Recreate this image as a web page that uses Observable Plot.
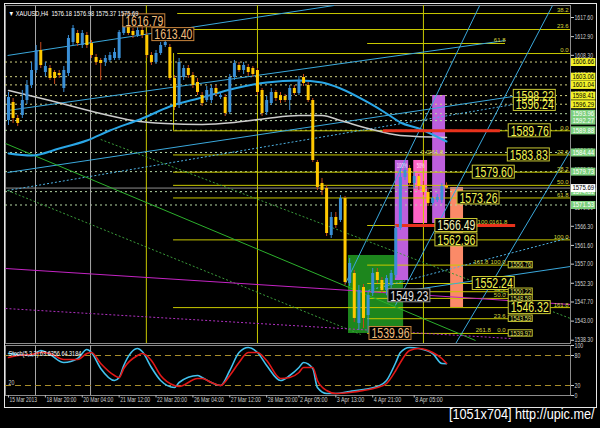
<!DOCTYPE html>
<html>
<head>
<meta charset="utf-8">
<script src="https://cdn.jsdelivr.net/npm/d3@7"></script>
<script src="https://cdn.jsdelivr.net/npm/@observablehq/plot@0.6"></script>
<style>
  html, body { margin: 0; padding: 0; background: #000; }
  #chart { position: relative; width: 600px; height: 428px; background: #000; overflow: hidden; }
  #chart svg { position: absolute; left: 0; }
  #border { position: absolute; left: 4px; top: 3px; width: 593px; height: 405px; border: 1px solid #e6e6e6; box-sizing: border-box; pointer-events: none; }
</style>
</head>
<body>
<div id="chart"><div id="border"></div></div>
<script>
// ---------- XAUUSD H4 bars ----------
const symbol = "XAUUSD,H4";
const candleOpen = [
  1592.30, 1596.72, 1592.79, 1593.52, 1597.21, 1600.90, 1604.58, 1609.49, 1604.09, 1605.07,
  1604.09, 1603.84, 1600.16, 1603.84, 1611.46, 1613.67, 1610.72, 1613.18, 1611.21, 1607.77,
  1607.04, 1606.55, 1607.04, 1607.53, 1607.53, 1613.67, 1615.39, 1614.16, 1613.18, 1614.41,
  1613.18, 1608.27, 1606.55, 1608.76, 1610.72, 1610.23, 1602.62, 1595.98, 1602.86, 1605.07,
  1603.35, 1601.63, 1598.44, 1597.21, 1597.21, 1600.16, 1597.95, 1597.95, 1594.26, 1602.86,
  1605.81, 1604.58, 1605.32, 1605.07, 1604.58, 1599.67, 1594.26, 1596.47, 1599.18, 1598.44,
  1598.19, 1597.21, 1600.16, 1598.93, 1602.86, 1600.90, 1597.21, 1581.98, 1576.82, 1575.59,
  1564.04, 1568.47, 1567.73, 1573.13, 1552.25, 1554.70, 1542.42, 1551.26, 1544.38, 1549.79,
  1554.95, 1552.98, 1550.53, 1551.76, 1554.21, 1565.76, 1578.29, 1580.50, 1576.82, 1578.54,
  1576.33, 1574.61, 1571.90, 1572.64, 1572.64, 1576.18
];
const candleHigh = [
  1599.18, 1597.70, 1593.52, 1599.67, 1602.12, 1606.55, 1610.72, 1611.46, 1606.55, 1605.81,
  1604.58, 1604.58, 1605.56, 1613.18, 1615.64, 1614.41, 1614.41, 1613.92, 1611.95, 1608.51,
  1607.53, 1608.27, 1609.00, 1609.99, 1614.41, 1616.79, 1616.20, 1614.90, 1615.14, 1615.14,
  1613.92, 1609.00, 1609.49, 1611.46, 1613.40, 1610.97, 1603.35, 1607.53, 1605.81, 1605.81,
  1604.09, 1602.62, 1599.18, 1600.65, 1600.90, 1600.90, 1599.18, 1598.68, 1603.60, 1607.04,
  1606.55, 1606.55, 1606.06, 1605.56, 1605.07, 1600.16, 1598.19, 1600.16, 1599.67, 1599.18,
  1598.68, 1600.90, 1600.90, 1603.11, 1603.60, 1601.63, 1597.70, 1582.47, 1578.05, 1576.33,
  1569.69, 1569.69, 1573.87, 1573.62, 1558.39, 1555.44, 1551.76, 1552.00, 1550.53, 1555.93,
  1555.93, 1553.72, 1554.21, 1555.44, 1566.50, 1580.50, 1581.73, 1581.24, 1579.52, 1579.03,
  1577.31, 1575.35, 1573.62, 1574.12, 1576.82, 1576.98
];
const candleLow = [
  1591.07, 1591.56, 1590.82, 1592.79, 1596.23, 1600.16, 1603.84, 1605.07, 1603.11, 1602.12,
  1601.14, 1602.62, 1599.18, 1603.11, 1610.72, 1610.48, 1609.99, 1609.99, 1607.53, 1605.81,
  1602.12, 1605.56, 1606.55, 1607.04, 1607.04, 1613.18, 1613.18, 1612.44, 1612.69, 1612.44,
  1607.53, 1605.81, 1606.06, 1608.27, 1610.23, 1602.12, 1594.75, 1595.24, 1602.12, 1602.62,
  1600.16, 1598.44, 1595.74, 1596.72, 1596.47, 1598.19, 1597.46, 1593.28, 1593.77, 1602.12,
  1604.09, 1603.60, 1603.11, 1602.86, 1598.44, 1593.28, 1593.52, 1595.98, 1596.96, 1596.47,
  1596.72, 1594.75, 1598.44, 1598.44, 1600.65, 1596.72, 1581.98, 1575.10, 1573.87, 1563.79,
  1563.30, 1565.76, 1567.23, 1551.76, 1551.51, 1542.66, 1540.70, 1541.20, 1539.96, 1549.05,
  1552.25, 1549.79, 1549.23, 1551.02, 1553.47, 1565.27, 1577.55, 1576.08, 1575.59, 1575.10,
  1573.87, 1571.17, 1571.41, 1572.15, 1571.90, 1575.37
];
const candleClose = [
  1597.95, 1592.79, 1591.56, 1597.21, 1600.90, 1604.58, 1609.49, 1605.81, 1605.56, 1602.62,
  1602.62, 1603.35, 1604.58, 1612.44, 1614.90, 1611.21, 1613.67, 1610.72, 1608.27, 1606.55,
  1606.30, 1607.53, 1608.27, 1609.00, 1613.92, 1615.64, 1613.67, 1613.18, 1614.41, 1613.18,
  1608.27, 1606.55, 1608.76, 1610.72, 1611.46, 1602.62, 1595.49, 1606.55, 1605.07, 1603.35,
  1600.90, 1599.18, 1596.47, 1599.67, 1600.16, 1598.93, 1598.44, 1594.02, 1602.86, 1606.30,
  1604.58, 1605.81, 1604.09, 1603.60, 1599.18, 1594.02, 1597.21, 1599.18, 1597.70, 1597.21,
  1597.21, 1600.16, 1598.93, 1602.12, 1601.39, 1597.21, 1582.47, 1575.84, 1575.10, 1564.53,
  1568.47, 1566.50, 1573.13, 1552.49, 1557.16, 1543.65, 1550.53, 1543.65, 1549.30, 1554.70,
  1552.98, 1550.53, 1553.47, 1554.70, 1565.76, 1578.29, 1580.01, 1576.82, 1578.54, 1576.08,
  1574.61, 1571.90, 1573.13, 1573.38, 1576.08, 1575.69
];

// time axis (bar index of each label)
const timeTickIndex = [0, 8, 16, 24, 32, 40, 48, 56, 63, 71, 79, 88];
const timeTickLabel = ["15 Mar 2013", "18 Mar 20:00", "20 Mar 04:00", "21 Mar 12:00", "22 Mar 20:00",
  "26 Mar 04:00", "27 Mar 12:00", "28 Mar 20:00", "2 Apr 05:00", "3 Apr 13:00", "4 Apr 21:00", "8 Apr 05:00"];

// moving averages
const maFastIndex = [0, 5, 11, 17, 22, 29, 35, 42, 49, 56, 63, 68, 72, 78, 82, 85, 89, 95];
const maFastValue = [1584.18, 1583.69, 1585.41, 1587.38, 1589.84, 1592.78, 1595.73, 1597.94, 1600.16,
  1601.63, 1602.12, 1601.63, 1600.16, 1596.72, 1594.01, 1591.80, 1590.33, 1587.13];
const maSlowIndex = [0, 9, 20, 27, 34, 42, 49, 56, 63, 68, 72, 78, 85, 95];
const maSlowValue = [1599.67, 1597.21, 1594.02, 1592.30, 1591.56, 1591.31, 1591.80, 1592.79, 1593.52,
  1593.52, 1592.30, 1590.33, 1588.61, 1588.12];

// stochastic oscillator (5,3,3)
const stochIndex = [0, 2, 5, 7, 9, 12, 15, 17, 18, 20, 23, 24, 25, 28, 29, 31, 33, 36, 37, 41, 42, 44, 46, 48,
  50, 52, 54, 56, 59, 61, 63, 64, 66, 67, 69, 71, 74, 77, 80, 82, 84, 85, 87, 89, 92, 94, 95];
const stochMain = [84, 82, 80, 90, 82, 66, 74, 92, 86, 54, 30, 36, 60, 94, 88, 56, 30, 16, 26, 40, 36, 26, 20, 50,
  86, 96, 86, 60, 30, 40, 56, 66, 54, 16, 4, 4, 8, 12, 18, 30, 66, 86, 96, 94, 84, 64, 63.6356];
const stochSignal = [76, 80, 82, 86, 84, 72, 72, 84, 86, 64, 40, 36, 54, 80, 84, 70, 40, 20, 18, 34, 34, 26, 20, 40,
  66, 86, 86, 70, 34, 36, 46, 56, 56, 30, 10, 4, 6, 10, 16, 24, 50, 66, 90, 94, 86, 74, 64.3184];
const stochLevels = [20, 80];
const stochTicks = [0, 20, 80, 100];

// price scale
const priceTicks = [1617.60, 1612.90, 1608.30, 1603.60, 1598.90, 1594.30, 1589.60, 1584.90, 1580.30,
  1575.60, 1570.90, 1566.30, 1561.60, 1557.00, 1552.30, 1547.70, 1543.00, 1538.30];

// horizontal alert lines with their axis tags
const tagYellow = [1606.66, 1603.06, 1601.04, 1598.41, 1596.29];
const tagGreen = [1593.96, 1592.27, 1589.88, 1584.44, 1579.73, 1574.81, 1571.53];

// Fibonacci levels
const fibUpperLevels = [1618.58, 1614.65, 1608.75];
const fibUpperNames = ["38.2", "23.6", "0.0"];
const fibMainLevels = [1589.76, 1583.83, 1579.60, 1576.36, 1573.26, 1562.96, 1546.32];
const fibMainNames = ["0.0", "23.6", "38.2", "50.0", "61.8", "100.0", "161.8"];
const fibLowerLevels = [1556.76, 1552.24, 1550.22, 1548.58, 1543.59, 1539.97];
const fibLowerNames = ["100.0", "", "61.8", "50.0", "23.6", "0.0"];
const fibShortLevels = [1611.21, 1566.49];

// vertical markers (bar index)
const separatorIndex = [5.86, 17.8];
const markerIndex = [29.9, 54, 90.0];

// shaded zones
const zones = [
  {kind: "green", i1: 73.75, i2: 85.7, v1: 1539.96, v2: 1559.13, tag: ""},
  {kind: "violet", i1: 83.9, i2: 86.8, v1: 1552.98, v2: 1582.47, tag: "100%"},
  {kind: "pink", i1: 87.9, i2: 90.9, v1: 1566.99, v2: 1582.47, tag: "50%"},
  {kind: "violet", i1: 92.0, i2: 94.8, v1: 1566.99, v2: 1598.44, tag: ""},
  {kind: "salmon", i1: 95.9, i2: 98.7, v1: 1546.35, v2: 1575.84, tag: ""}
];

// trend lines
const trendLines = [
  {kind: "cyan", i1: -0.2, v1: 1608.27, i2: 70.6, v2: 1620.55},
  {kind: "cyan", i1: -0.2, v1: 1594.75, i2: 107.8, v2: 1611.95},
  {kind: "cyan", i1: -0.2, v1: 1579.52, i2: 109.6, v2: 1598.22},
  {kind: "cyanDot", i1: -0.2, v1: 1575.10, i2: 109.6, v2: 1596.24},
  {kind: "cyan", i1: 73.1, v1: 1552.25, i2: 102.2, v2: 1620.55},
  {kind: "cyan", i1: 83.9, v1: 1546.84, i2: 118.0, v2: 1620.55},
  {kind: "cyan", i1: 97.0, v1: 1537.50, i2: 121.9, v2: 1584.92},
  {kind: "cyan", i1: 83.9, v1: 1550.04, i2: 121.9, v2: 1556.42},
  {kind: "cyanDot", i1: 76.4, v1: 1550.04, i2: 121.9, v2: 1563.55},
  {kind: "green", i1: -0.65, v1: 1586.64, i2: 101.3, v2: 1538.24},
  {kind: "greenDot", i1: 20.0, v1: 1587.63, i2: 121.9, v2: 1543.65},
  {kind: "greenDot", i1: -0.2, v1: 1575.10, i2: 76.4, v2: 1539.72},
  {kind: "magenta", i1: -0.65, v1: 1555.93, i2: 121.9, v2: 1547.09},
  {kind: "magentaDot", i1: -0.65, v1: 1546.10, i2: 108.9, v2: 1538.73}
];

// highlighted levels
const redLevels = [
  {i1: 81.3, i2: 106.7, v: 1589.76},
  {i1: 83.9, i2: 110.0, v: 1566.49}
];

// price labels
const priceLabels = [
  {kind: "orange", i: 24.9, v: 1616.79},
  {kind: "orange", i: 31.2, v: 1613.40},
  {kind: "yellow", i: 109.6, v: 1598.22},
  {kind: "yellow", i: 109.6, v: 1596.24},
  {kind: "yellow", i: 108.5, v: 1589.76},
  {kind: "yellow", i: 108.3, v: 1583.83},
  {kind: "yellow", i: 100.7, v: 1579.60},
  {kind: "yellow", i: 97.4, v: 1573.26},
  {kind: "pale", i: 92.6, v: 1566.49},
  {kind: "yellow", i: 92.6, v: 1562.96},
  {kind: "yellow", i: 100.7, v: 1552.24},
  {kind: "gray", i: 82.4, v: 1549.23},
  {kind: "yellow", i: 108.5, v: 1546.32},
  {kind: "orange", i: 78.3, v: 1539.96}
];
const smallLabels = [1556.76, 1550.22, 1548.58, 1543.59, 1539.97];
const midNotes = [
  {i: 107.8, v: 1611.21, t: "61.8"},
  {i: 91.3, v: 1583.83, t: "0.0"},
  {i: 94.3, v: 1583.83, t: "261.8"},
  {i: 105.0, v: 1566.49, t: "100.0"},
  {i: 108.2, v: 1566.49, t: "161.8"},
  {i: 104.1, v: 1556.76, t: "161.8"},
  {i: 104.6, v: 1539.97, t: "261.8"}
];

// ---------- derived tables ----------
const X_DOMAIN = [-0.65, 121.9];
const Y_DOMAIN = [1537.5, 1620.55];
const PX = (X_DOMAIN[1] - X_DOMAIN[0]) / 565;   // bar units per pixel
const PY = (Y_DOMAIN[1] - Y_DOMAIN[0]) / 338;   // price units per pixel

const candles = candleOpen.map((open, i) => ({i, open, high: candleHigh[i], low: candleLow[i], close: candleClose[i]}));
const bulls = candles.filter(d => d.close >= d.open);
const bears = candles.filter(d => d.close < d.open);
const last = candles[candles.length - 1];
const maFast = maFastIndex.map((i, k) => ({i, v: maFastValue[k]}));
const maSlow = maSlowIndex.map((i, k) => ({i, v: maSlowValue[k]}));
const stoch = stochIndex.map((i, k) => ({i, main: stochMain[k], signal: stochSignal[k]}));
const timeTicks = timeTickIndex.map((i, k) => ({i, label: timeTickLabel[k]}));

const FIB_FROM = 35.8, FIB_UPPER_FROM = 36.7, LOW_FROM = 77.9, LOW_TO = 108.5;
const fibLines = [
  ...fibUpperLevels.map(v => ({v, i1: FIB_UPPER_FROM, i2: X_DOMAIN[1]})),
  ...fibMainLevels.map(v => ({v, i1: FIB_FROM, i2: X_DOMAIN[1]})),
  ...fibLowerLevels.map(v => ({v, i1: LOW_FROM, i2: LOW_TO})),
  {v: fibShortLevels[0], i1: LOW_FROM, i2: 107.8},
  {v: fibShortLevels[1], i1: LOW_FROM, i2: 83.9}
];
const fibBox = [{i: FIB_FROM, v1: fibMainLevels[0], v2: fibUpperLevels[2]}];
const edgeNotes = [
  ...fibUpperLevels.map((v, k) => ({v, t: fibUpperNames[k]})),
  ...fibMainLevels.map((v, k) => ({v, t: fibMainNames[k]}))
];
const lowerNotes = fibLowerLevels.map((v, k) => ({v, t: fibLowerNames[k]})).filter(d => d.t);

const TAG_X1 = 122.1, TAG_X2 = 127.4;
const LABEL_W = 42 * PX, LABEL_H = 6.5 * PY;
const SMALL_W = 24 * PX, SMALL_H = 3.2 * PY;

const ZONE_FILL = {green: "#1d861d", violet: "#bd5fdc", pink: "#ff63c6", salmon: "#fb8a68"};
const TREND = {
  cyan: {stroke: "#3aa8dc"}, cyanDot: {stroke: "#4eb2e4", strokeDasharray: "2,2"},
  green: {stroke: "#2cb02c"}, greenDot: {stroke: "#3a9a3a", strokeDasharray: "2,2"},
  magenta: {stroke: "#c424c4"}, magentaDot: {stroke: "#b030c0", strokeDasharray: "2,2"}
};
const LABEL_STYLE = {
  orange: {edge: "#c8843c", ink: "#f2bc7c"},
  yellow: {edge: "#c8c832", ink: "#f4f450"},
  pale: {edge: "#c8c832", ink: "#f4f4b8"},
  gray: {edge: "#9a9a9a", ink: "#e4e4e4"}
};
const FIB = "#c8c800";
const SMALL_TEXT = {fontSize: 6, fill: "#d4d43c"};

// font sizes double as group keys for the narrowing pass below
const FS = {axis: 7, time: 6.9, header: 7.2, stochTitle: 7.3, tag: 7.1, small: 6.6, big: 15, mark: 15.5};

// ---------- main price panel ----------
const mainMarks = [
  Plot.frame({stroke: "#8c8c8c"}),
  ...zones.map(z => Plot.rect([z], {x1: "i1", x2: "i2", y1: "v1", y2: "v2", fill: ZONE_FILL[z.kind]})),
  Plot.ruleY(tagYellow, {stroke: "#d2d282", strokeDasharray: "2,3"}),
  Plot.ruleY(tagGreen, {stroke: "#b4d6a4", strokeDasharray: "2,3"}),
  Plot.ruleY([last.close], {stroke: "#8e8e8e"}),
  Plot.ruleX(separatorIndex, {stroke: "#a8a8a8"}),
  Plot.ruleX(markerIndex, {stroke: FIB}),
  Plot.ruleY(fibLines, {y: "v", x1: "i1", x2: "i2", stroke: FIB}),
  Plot.ruleX(fibBox, {x: "i", y1: "v1", y2: "v2", stroke: FIB}),
  ...Object.keys(TREND).map(k => Plot.link(trendLines.filter(d => d.kind === k),
    {x1: "i1", y1: "v1", x2: "i2", y2: "v2", ...TREND[k], strokeWidth: 1, clip: true})),
  Plot.line(maSlow, {x: "i", y: "v", stroke: "#cccccc", strokeWidth: 1.5, curve: "monotone-x"}),
  Plot.line(maFast, {x: "i", y: "v", stroke: "#2aa6e6", strokeWidth: 2, curve: "monotone-x"}),
  Plot.ruleY(redLevels, {y: "v", x1: "i1", x2: "i2", stroke: "#e8321c", strokeWidth: 3}),
  Plot.ruleX(bulls, {x: "i", y1: "low", y2: "high", stroke: "#3a8fd6"}),
  Plot.ruleX(bears, {x: "i", y1: "low", y2: "high", stroke: "#c8481a"}),
  Plot.ruleX(bulls, {x: "i", y1: "open", y2: "close", stroke: "#3a8fd6", strokeWidth: 3}),
  Plot.ruleX(bears, {x: "i", y1: "open", y2: "close", stroke: "#ffc800", strokeWidth: 3}),
  Plot.text(zones.filter(z => z.tag), {x: d => (d.i1 + d.i2) / 2, y: "v2", dy: 5, text: "tag", fontSize: 7, fill: "#ffe0ff"}),
  // fibonacci level names
  Plot.text(edgeNotes, {x: X_DOMAIN[1] - 0.4, y: "v", text: "t", textAnchor: "end", dy: -3, ...SMALL_TEXT}),
  Plot.text(lowerNotes, {x: 107.8, y: "v", text: "t", textAnchor: "end", dy: -3, ...SMALL_TEXT}),
  Plot.text(midNotes, {x: "i", y: "v", text: "t", textAnchor: "end", dy: -3, ...SMALL_TEXT}),
  // boxed price labels
  ...Object.keys(LABEL_STYLE).map(k => Plot.rect(priceLabels.filter(d => d.kind === k),
    {x1: "i", x2: d => d.i + LABEL_W, y1: d => d.v - LABEL_H, y2: d => d.v + LABEL_H,
     fill: "#000", stroke: LABEL_STYLE[k].edge})),
  ...Object.keys(LABEL_STYLE).map(k => Plot.text(priceLabels.filter(d => d.kind === k),
    {x: d => d.i + LABEL_W / 2, y: "v", text: d => d.v.toFixed(2), fontSize: FS.big, fill: LABEL_STYLE[k].ink,
     fontFamily: "Liberation Sans Narrow, Arial Narrow, Liberation Sans, Arial, sans-serif"})),
  Plot.rect(smallLabels, {x1: 108.5, x2: 108.5 + SMALL_W, y1: d => d - SMALL_H, y2: d => d + SMALL_H,
    fill: "#000", stroke: "#c8c832"}),
  Plot.text(smallLabels, {x: 108.5 + SMALL_W / 2, y: d => d, text: d => d.toFixed(2), fontSize: FS.small, fill: "#e2e260"}),
  // price axis with tags
  Plot.axisY(priceTicks, {anchor: "right", tickSize: 3, tickPadding: 1, fontSize: FS.axis, color: "#cfcfcf",
    tickFormat: d => d.toFixed(2)}),
  Plot.ruleY(tagYellow, {x1: TAG_X1, x2: TAG_X2, stroke: "#f2f22a", strokeWidth: 8}),
  Plot.ruleY(tagGreen, {x1: TAG_X1, x2: TAG_X2, stroke: "#7ccf7c", strokeWidth: 8}),
  Plot.ruleY([last.close], {x1: TAG_X1, x2: TAG_X2, stroke: "#ffffff", strokeWidth: 8}),
  Plot.text(tagYellow, {x: TAG_X1, y: d => d, text: d => d.toFixed(2), textAnchor: "start", dx: 1, fontSize: FS.tag, fill: "#000"}),
  Plot.text(tagGreen, {x: TAG_X1, y: d => d, text: d => d.toFixed(2), textAnchor: "start", dx: 1, fontSize: FS.tag, fill: "#ffffff"}),
  Plot.text([last.close], {x: TAG_X1, y: d => d, text: d => d.toFixed(2), textAnchor: "start", dx: 1, fontSize: FS.tag, fill: "#000"}),
  // symbol header
  Plot.text([`\u25BC ${symbol}  ${last.open.toFixed(2)} ${last.high.toFixed(2)} ${last.low.toFixed(2)} ${last.close.toFixed(2)}`],
    {text: d => d, frameAnchor: "top-left", dx: 3, dy: 5, textAnchor: "start", fontSize: FS.header, fill: "#ffffff"})
];

const style = {background: "transparent", color: "#cfcfcf", fontFamily: "Liberation Sans, Arial, sans-serif", overflow: "visible"};

const main = Plot.plot({
  width: 600, height: 345,
  marginLeft: 5, marginRight: 30, marginTop: 5, marginBottom: 2,
  x: {domain: X_DOMAIN, axis: null},
  y: {domain: Y_DOMAIN},
  style,
  marks: mainMarks
});
main.style.top = "0px";

// ---------- stochastic panel ----------
const lower = Plot.plot({
  width: 600, height: 85,
  marginLeft: 5, marginRight: 30, marginTop: 2, marginBottom: 33,
  x: {domain: X_DOMAIN, axis: null},
  y: {domain: [0, 100]},
  style,
  marks: [
    Plot.frame({stroke: "#8c8c8c"}),
    Plot.ruleX(separatorIndex, {stroke: "#a8a8a8"}),
    Plot.ruleY(stochLevels, {stroke: "#a88e2c", strokeDasharray: "6,4"}),
    Plot.line(stoch, {x: "i", y: "main", stroke: "#42c2ee", strokeWidth: 1.6, curve: "monotone-x"}),
    Plot.line(stoch, {x: "i", y: "signal", stroke: "#e21818", strokeWidth: 1.6, curve: "monotone-x"}),
    Plot.axisY(stochTicks, {anchor: "right", tickSize: 3, tickPadding: 1, fontSize: FS.axis, color: "#cfcfcf"}),
    Plot.text([stochLevels[0]], {y: d => d, text: d => `${d}`, frameAnchor: "left", dx: 3, dy: -3, textAnchor: "start", fontSize: FS.axis, fill: "#cfcfcf"}),
    Plot.text([`Stoch(5,3,3) ${stochMain[stochMain.length - 1].toFixed(4)} ${stochSignal[stochSignal.length - 1].toFixed(4)}`],
      {text: d => d, frameAnchor: "top-left", dx: 3, dy: 5, textAnchor: "start", fontSize: FS.stochTitle, fill: "#ffffff"}),
    Plot.ruleX(timeTicks, {x: "i", y1: 0, y2: -5, stroke: "#bdbdbd"}),
    Plot.text(timeTicks, {x: "i", text: "label", frameAnchor: "bottom", dy: 6, dx: 1, textAnchor: "start", fontSize: FS.time, fill: "#cfcfcf"}),
    Plot.text(["[1051x704] http://upic.me/"], {text: d => d, frameAnchor: "bottom-right", dx: 24, dy: 23,
      textAnchor: "end", fontSize: FS.mark, fill: "#ffffff"})
  ]
});
lower.style.top = "343px";

// narrow each text group to a per-character advance
function narrow(svg, size, perChar) {
  svg.querySelectorAll(`g[font-size="${size}"] text`).forEach(t => {
    const n = t.textContent.length;
    t.setAttribute("textLength", (n * perChar).toFixed(1));
    t.setAttribute("lengthAdjust", "spacingAndGlyphs");
  });
}
narrow(main, FS.big, 5.45);
narrow(main, FS.axis, 2.65);
narrow(main, FS.tag, 3.1);
narrow(main, FS.small, 3.0);
narrow(main, FS.header, 2.95);
narrow(lower, FS.axis, 2.9);
narrow(lower, FS.time, 2.5);
narrow(lower, FS.stochTitle, 2.6);
narrow(lower, FS.mark, 5.6);

const chart = document.getElementById("chart");
chart.insertBefore(lower, chart.firstChild);
chart.insertBefore(main, chart.firstChild);
</script>
</body>
</html>
